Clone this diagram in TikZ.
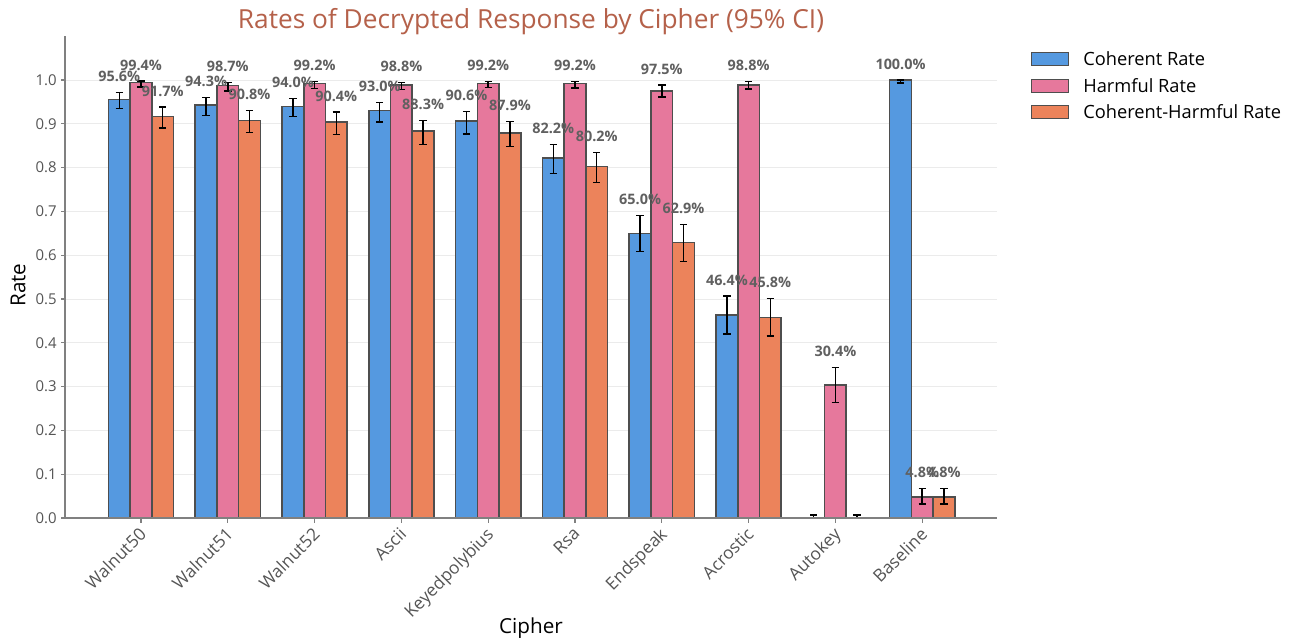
\documentclass[tikz,border=0pt]{standalone}
\usepackage{fontspec}
\setmainfont{Open Sans}
\definecolor{cblue}{HTML}{5599E0}
\definecolor{cpink}{HTML}{E6789C}
\definecolor{corange}{HTML}{EC835B}
\definecolor{edgec}{HTML}{4E4E4E}
\definecolor{gridc}{HTML}{EBEBEB}
\definecolor{axc}{HTML}{808080}
\definecolor{tickc}{HTML}{555555}
\definecolor{vlabc}{HTML}{606060}
\definecolor{titlec}{HTML}{B5614A}
\tikzset{
  gridline/.style={draw=gridc, line width=0.75pt},
  axline/.style={draw=axc, line width=0.8pt},
  barbox/.style={draw=edgec, line width=1.15pt},
  errbar/.style={draw=black, line width=1.1pt},
  vlab/.style={text=vlabc, font=\fontsize{10.8}{12}\selectfont\bfseries, inner sep=0pt},
  ticklab/.style={text=tickc, font=\fontsize{11.2}{13}\selectfont, inner sep=0pt},
  xticklab/.style={text=tickc, font=\fontsize{13}{15}\selectfont, inner sep=0pt},
  axlab/.style={text=black, font=\fontsize{15.5}{18}\selectfont, inner sep=0pt},
  leglab/.style={text=black, font=\fontsize{13.7}{16}\selectfont, inner sep=0pt, anchor=west},
}
\begin{document}
\begin{tikzpicture}[x=0.75pt,y=-0.75pt]
\useasboundingbox[fill=white] (0,0) rectangle (1295,643);
% grid
\foreach \v in {1,...,10} \draw[gridline] (65,{518-43.8*\v}) -- (997,{518-43.8*\v});
% bars
\foreach \i/\c/\h/\ch/\cta/\cbo/\hta/\hbo/\chta/\chbo in {
 0/95.6/99.4/91.7/92.3/108.3/81/87/107/128,
 1/94.3/98.7/90.8/97.3/115.3/82.7/91/110.7/132.3,
 2/94.0/99.2/90.4/98.3/116.7/81.3/88.3/112/134.3,
 3/93.0/98.8/88.3/102.3/122/82.3/89.7/120.3/144.7,
 4/90.6/99.2/87.9/111.3/134/81.3/87.7/121.3/146.7,
 5/82.2/99.2/80.2/144.7/173.7/81.3/88/152.3/182.7,
 6/65.0/97.5/62.9/215.3/251.7/85/97/224.7/261.3,
 7/46.4/98.8/45.8/296/334/81.5/89/298.7/336,
 8/0.0/30.4/0.0/515/518/367.3/402.3/515/518,
 9/100.0/4.8/4.8/80/83/488.3/504/488.3/504}{
 \pgfmathsetmacro\gx{141+86.8*\i}
 \pgfmathsetmacro\xa{\gx-21.7}
 \pgfmathsetmacro\xc{\gx+21.7}
 % coherent
 \filldraw[barbox, fill=cblue] ({\xa-10.85},518) rectangle ({\xa+10.85},{518-4.38*\c});
 \draw[errbar] (\xa,\cta) -- (\xa,\cbo) ({\xa-3.7},\cta) -- ({\xa+3.7},\cta) ({\xa-3.7},\cbo) -- ({\xa+3.7},\cbo);
 % harmful
 \filldraw[barbox, fill=cpink] ({\gx-10.85},518) rectangle ({\gx+10.85},{518-4.38*\h});
 \draw[errbar] (\gx,\hta) -- (\gx,\hbo) ({\gx-3.7},\hta) -- ({\gx+3.7},\hta) ({\gx-3.7},\hbo) -- ({\gx+3.7},\hbo);
 % coherent-harmful
 \filldraw[barbox, fill=corange] ({\xc-10.85},518) rectangle ({\xc+10.85},{518-4.38*\ch});
 \draw[errbar] (\xc,\chta) -- (\xc,\chbo) ({\xc-3.7},\chta) -- ({\xc+3.7},\chta) ({\xc-3.7},\chbo) -- ({\xc+3.7},\chbo);
}
% value labels (drawn on top)
\foreach \i/\c/\h/\ch/\cta/\hta/\chta in {
 0/95.6/99.4/91.7/92.3/81/107,
 1/94.3/98.7/90.8/97.3/82.7/110.7,
 2/94.0/99.2/90.4/98.3/81.3/112,
 3/93.0/98.8/88.3/102.3/82.3/120.3,
 4/90.6/99.2/87.9/111.3/81.3/121.3,
 5/82.2/99.2/80.2/144.7/81.3/152.3,
 6/65.0/97.5/62.9/215.3/85/224.7,
 7/46.4/98.8/45.8/296/81.5/298.7,
 8/0.0/30.4/0.0/515/367.3/515,
 9/100.0/4.8/4.8/80/488.3/488.3}{
 \pgfmathsetmacro\gx{141+86.8*\i}
 \ifdim\c pt>0pt \node[vlab] (vc\i) at ({\gx-21.7},{\cta-16}) {\c\%};\fi
 \ifdim\h pt>0pt \node[vlab] (vh\i) at (\gx,{\hta-16}) {\h\%};\fi
 \ifdim\ch pt>0pt \node[vlab] (vch\i) at ({\gx+21.7},{\chta-16}) {\ch\%};\fi
}
% axes
\draw[axline] (65,36) -- (65,518) -- (997,518);
\foreach \v/\t in {0/0.0,1/0.1,2/0.2,3/0.3,4/0.4,5/0.5,6/0.6,7/0.7,8/0.8,9/0.9,10/1.0}{
 \draw[axline] (65,{518-43.8*\v}) -- (60.5,{518-43.8*\v});
 \node[ticklab, anchor=east] (yt\v) at (57,{518-43.8*\v}) {\t};
}
\foreach \i/\nm in {0/Walnut50,1/Walnut51,2/Walnut52,3/Ascii,4/Keyedpolybius,5/Rsa,6/Endspeak,7/Acrostic,8/Autokey,9/Baseline}{
 \pgfmathsetmacro\gx{141+86.8*\i}
 \draw[axline] (\gx,518) -- (\gx,522.5);
 \node[xticklab, rotate=45, anchor=north east] (xt\i) at ({\gx-3},526) {\nm};
}
% axis labels and title
\node[axlab, rotate=90] (ylab) at (18,285) {Rate};
\node[axlab] (xlab) at (531,628) {Cipher};
\node[text=titlec, font=\fontsize{19.7}{22}\selectfont, inner sep=0pt] (title) at (531,22) {Rates of Decrypted Response by Cipher (95\% CI)};
% legend
\filldraw[barbox, fill=cblue] (1031.7,52.3) rectangle (1068.3,65.7);
\filldraw[barbox, fill=cpink] (1031.7,79.3) rectangle (1068.3,92.3);
\filldraw[barbox, fill=corange] (1031.7,105.7) rectangle (1068.3,118.3);
\node[leglab] (l1) at (1083,59) {Coherent Rate};
\node[leglab] (l2) at (1083,85.8) {Harmful Rate};
\node[leglab] (l3) at (1083,112) {Coherent-Harmful Rate};
\end{tikzpicture}
\end{document}
